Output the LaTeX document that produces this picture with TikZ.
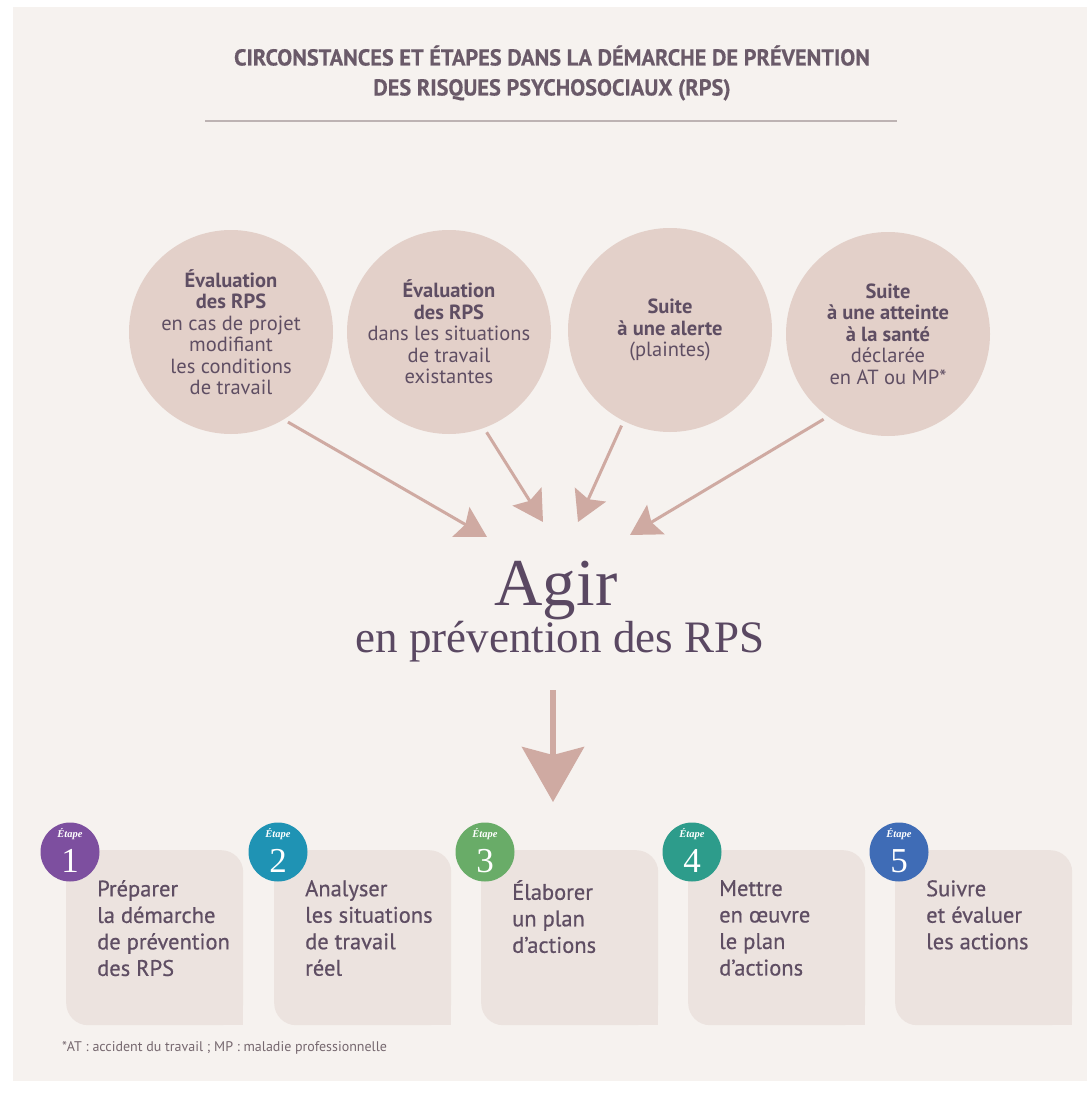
\documentclass[tikz,border=0pt]{standalone}
\usepackage{fontspec}
\setmainfont{PT Sans}
\newfontfamily\agirfont{Liberation Serif}
\newfontfamily\titlefont[FakeStretch=0.97,FakeBold=0.5]{PT Sans}
\newfontface\boxfont[FakeBold=0.6]{PT Sans}
\usetikzlibrary{arrows.meta}
\definecolor{bgc}{HTML}{F6F2EF}
\definecolor{circc}{HTML}{E3D0C9}
\definecolor{arrc}{HTML}{CFAAA2}
\definecolor{titc}{HTML}{6A5A69}
\definecolor{txtc}{HTML}{5F4E63}
\definecolor{agirc}{HTML}{5A4862}
\definecolor{boxc}{HTML}{ECE3DF}
\definecolor{rulec}{HTML}{BDB3B3}
\definecolor{footc}{HTML}{76686F}
\definecolor{st1}{HTML}{7D4F9F}
\definecolor{st2}{HTML}{1F93B4}
\definecolor{st3}{HTML}{69AC68}
\definecolor{st4}{HTML}{2D9C8B}
\definecolor{st5}{HTML}{3F6CB6}
\begin{document}
\begin{tikzpicture}[x=1pt,y=-1pt,
  circ/.style={circle, fill=circc, minimum size=204pt, inner sep=0pt, align=center, text=txtc,
    font=\fontsize{20.5}{21.5}\selectfont},
  arr/.style={draw=arrc, line width=3pt, shorten <=5pt,
    -{Stealth[length=30pt,width=34pt,inset=5pt]}},
  bigarr/.style={draw=arrc, line width=6pt,
    -{Stealth[length=55pt,width=62pt,inset=8pt]}},
  stepbox/.style={rectangle, fill=boxc, minimum width=177pt, minimum height=175pt,
    rounded corners=22pt, inner sep=0pt},
  steptext/.style={align=left, text=txtc, inner sep=0pt,
    font=\boxfont\fontsize{22.5}{26.5}\selectfont},
  badge/.style={circle, minimum size=59pt, inner sep=0pt},
  numtext/.style={text=white, inner sep=0pt, font=\agirfont\fontsize{35}{35}\selectfont},
  etapetext/.style={text=white, inner sep=0pt, font=\agirfont\itshape\bfseries\fontsize{10.5}{10.5}\selectfont}
]
\useasboundingbox (0,0) rectangle (1087,1108);
\fill[white] (0,0) rectangle (1087,1108);
\fill[bgc] (13,7) rectangle (1087,1081);

% title
\node[align=center, text=titc, inner sep=0pt,
  font=\titlefont\bfseries\fontsize{23}{30}\selectfont] (title) at (552,73)
  {CIRCONSTANCES ET ÉTAPES DANS LA DÉMARCHE DE PRÉVENTION\\DES RISQUES PSYCHOSOCIAUX (RPS)};
\draw[rulec, line width=1.5pt] (205,121) -- (897,121);

% circles
\node[circ] (c1) at (231,332) {\textbf{Évaluation}\\\textbf{des RPS}\\en cas de projet\\modifiant\\les conditions\\de travail};
\node[circ] (c2) at (449,332) {\textbf{Évaluation}\\\textbf{des RPS}\\dans les situations\\de travail\\existantes};
\node[circ] (c3) at (670,330) {\textbf{Suite}\\\textbf{à une alerte}\\(plaintes)};
\node[circ] (c4) at (888,334) {\textbf{Suite}\\\textbf{à une atteinte}\\\textbf{à la santé}\\déclarée\\en AT ou MP*};

% Agir
\node[anchor=base, text=agirc, inner sep=0pt, font=\agirfont\fontsize{67}{67}\selectfont] (agir) at (556,605) {Agir};
\node[anchor=base, text=agirc, inner sep=0pt, font=\agirfont\fontsize{45}{45}\selectfont] (agir2) at (560,652) {en prévention des RPS};

% arrows into Agir
\coordinate (t1) at (487,537);
\coordinate (t2) at (543,522);
\coordinate (t3) at (578,522);
\coordinate (t4) at (630,535);
\draw[arr] (c1.301) -- (t1);
\draw[arr] (c2.290) -- (t2);
\draw[arr] (c3.243) -- (t3);
\draw[arr] (c4.234) -- (t4);

% down arrow
\coordinate (d0) at (553,690);
\coordinate (d1) at (553,802);
\draw[bigarr] (d0) -- (d1);

% steps
\foreach \i/\xl/\col/\txt in {
  1/66/st1/{Préparer\\la démarche\\de prévention\\des RPS},
  2/274/st2/{Analyser\\les situations\\de travail\\réel},
  3/481/st3/{Élaborer\\un plan\\d’actions},
  4/688/st4/{Mettre\\en œuvre\\le plan\\d’actions},
  5/895/st5/{Suivre\\et évaluer\\les actions}}{
  \node[stepbox, anchor=north west] (b\i) at (\xl,850) {};
  \fill[boxc] (b\i.south east) rectangle +(-24,-24);
  \node[steptext, anchor=north west] (s\i) at (\xl+31,880) {\txt};
  \node[badge, fill=\col] (n\i) at (\xl+4,852) {};
  \node[numtext, anchor=base] (num\i) at (\xl+4,872) {\i};
  \node[etapetext] (et\i) at (\xl+4,834) {Étape};
}

% footer
\node[anchor=west, text=footc, inner sep=0pt, font=\fontsize{14}{16}\selectfont] (foot) at (62,1048)
  {*AT : accident du travail ; MP : maladie professionnelle};
\end{tikzpicture}
\end{document}
